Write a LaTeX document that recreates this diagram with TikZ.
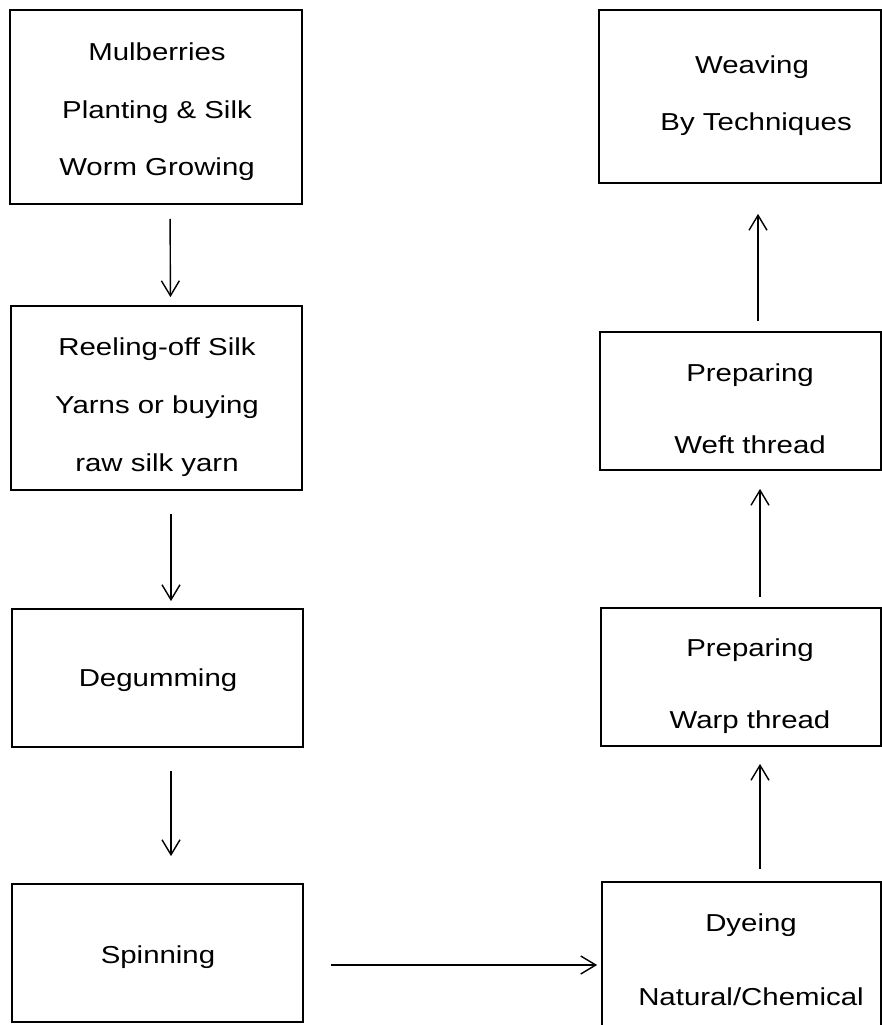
\documentclass[tikz,border=0pt]{standalone}
\usepackage{fontspec}
\setmainfont{Liberation Sans}[FakeStretch=1.2]
\usetikzlibrary{arrows.meta}
\begin{document}
\begin{tikzpicture}[x=1pt,y=-1pt,
  box/.style={draw=black, line width=1.8pt, rectangle, inner sep=0pt},
  lbl/.style={align=center, inner sep=0pt},
  arr/.style={draw=black, line width=1.4pt, -{Straight Barb[length=15pt,width=18pt,line width=1.4pt]}}]
\useasboundingbox (0,0) rectangle (882,1025);
\clip (0,0) rectangle (882,1025);
% left column boxes
\node[box, minimum width=292pt, minimum height=194pt] (b1) at (156,107) {};
\node[box, minimum width=291pt, minimum height=184pt] (b2) at (156.5,398) {};
\node[box, minimum width=291pt, minimum height=138pt] (b3) at (157.5,678) {};
\node[box, minimum width=291pt, minimum height=138pt] (b4) at (157.5,953) {};
% right column boxes
\node[box, minimum width=282pt, minimum height=173pt] (r1) at (740,96.5) {};
\node[box, minimum width=281pt, minimum height=138pt] (r2) at (740.5,401) {};
\node[box, minimum width=280pt, minimum height=138pt] (r3) at (741,677) {};
\node[box, minimum width=279pt, minimum height=158pt] (r4) at (741.5,961) {};
% texts
\node[lbl, font=\fontsize{24.5pt}{57.5pt}\selectfont] (t1) at (157,112) {Mulberries\\Planting \& Silk\\Worm Growing};
\node[lbl, font=\fontsize{24.5pt}{58pt}\selectfont] (t2) at (157,407) {Reeling-off Silk\\Yarns or buying\\raw silk yarn};
\node[lbl, font=\fontsize{24.5pt}{58pt}\selectfont] (t3) at (158,680) {Degumming};
\node[lbl, font=\fontsize{24.5pt}{58pt}\selectfont] (t4) at (158,957) {Spinning};
\node[lbl, font=\fontsize{24.5pt}{57pt}\selectfont] (u1) at (752,96) {Weaving\\\ By Techniques};
\node[lbl, font=\fontsize{24.5pt}{72pt}\selectfont] (u2) at (750,409) {Preparing\\Weft thread};
\node[lbl, font=\fontsize{24.5pt}{72pt}\selectfont] (u3) at (750,686) {Preparing\\Warp thread};
\node[lbl, font=\fontsize{24.5pt}{74pt}\selectfont] (u4) at (751,960) {Dyeing\\Natural/Chemical};
% connectors
\draw[arr, shorten <=14pt, shorten >=8pt] ([xshift=14pt]b1.south) -- ([xshift=14pt]b2.north);
\draw[arr, shorten <=23pt, shorten >=7pt] ([xshift=14.5pt]b2.south) -- ([xshift=13.5pt]b3.north);
\draw[arr, shorten <=23pt, shorten >=27pt] ([xshift=13.5pt]b3.south) -- ([xshift=13.5pt]b4.north);
\draw[arr, shorten <=27pt, shorten >=4pt] ([yshift=-12pt]b4.east) -- ([yshift=-4pt]r4.west);
\draw[arr, shorten <=12pt, shorten >=17pt] ([xshift=18.5pt]r4.north) -- ([xshift=19pt]r3.south);
\draw[arr, shorten <=10pt, shorten >=18pt] ([xshift=19pt]r3.north) -- ([xshift=19.5pt]r2.south);
\draw[arr, shorten <=10pt, shorten >=30pt] ([xshift=17.5pt]r2.north) -- ([xshift=18pt]r1.south);
\end{tikzpicture}
\end{document}
